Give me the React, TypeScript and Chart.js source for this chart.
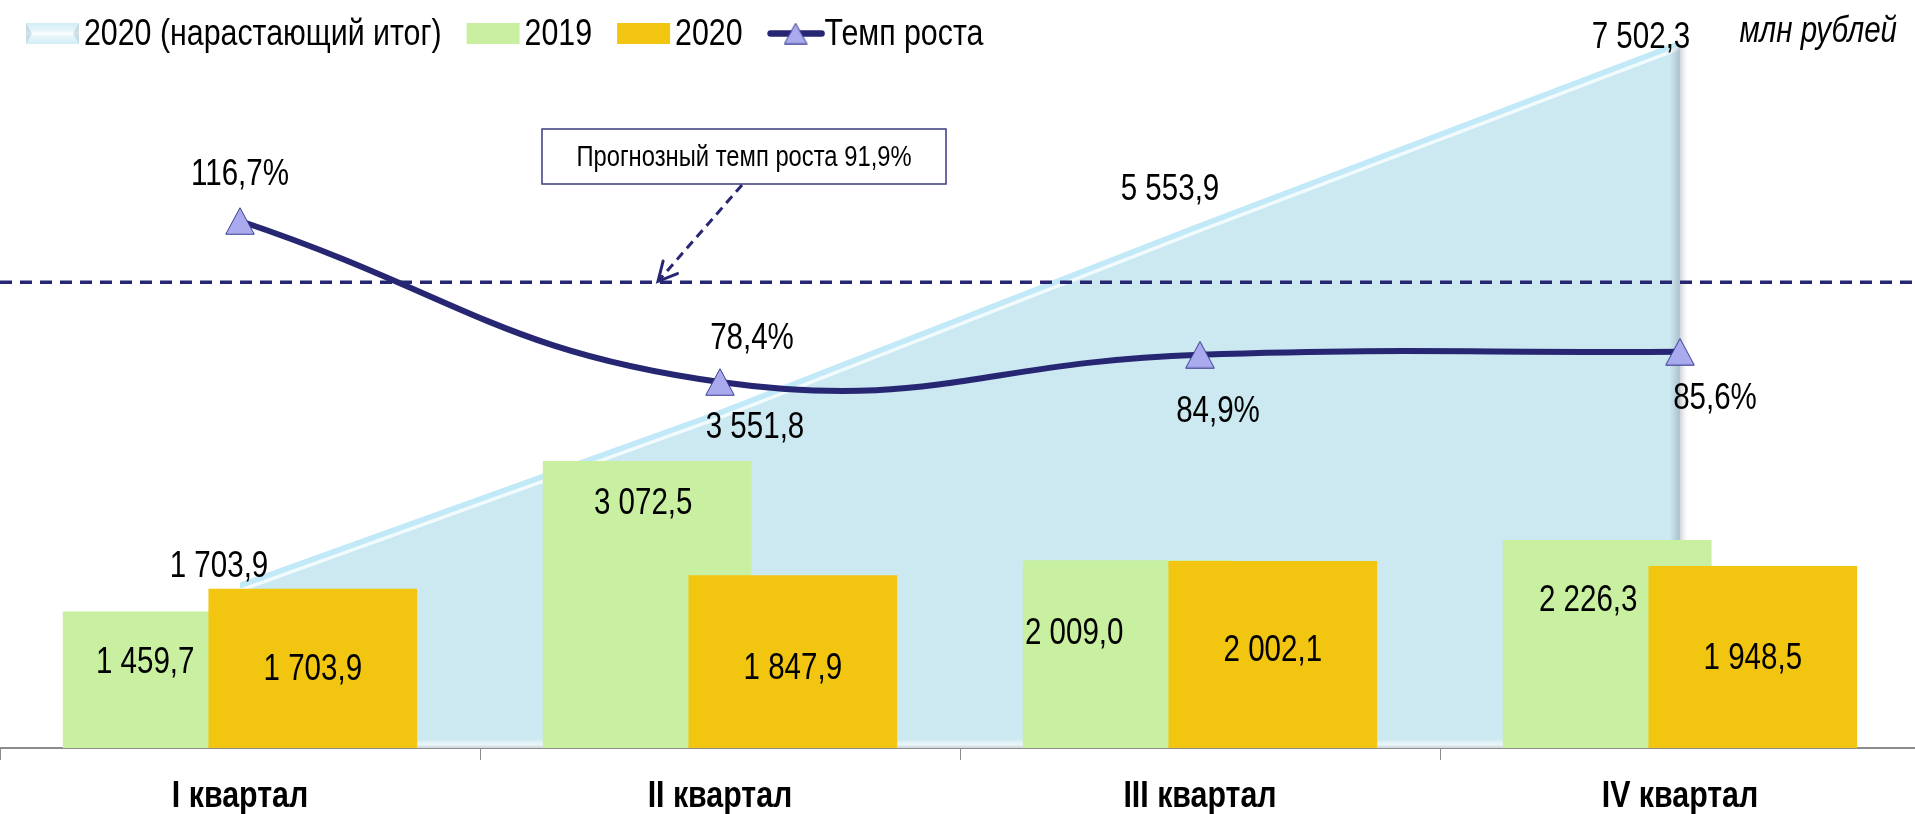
import React, { useEffect, useRef } from "react";
import { Chart, registerables } from "chart.js";

Chart.register(...registerables);

// ---------- data ----------
const categories = ["I квартал", "II квартал", "III квартал", "IV квартал"];
const values2019 = [1459.7, 3072.5, 2009.0, 2226.3];
const values2020 = [1703.9, 1847.9, 2002.1, 1948.5];
const cumulative2020 = [1703.9, 3551.8, 5553.9, 7502.3];
const growthRate = [116.7, 78.4, 84.9, 85.6];
const forecastRate = 91.9;
const forecastLineLevel = 102.1; // where the dashed forecast line sits on the rate axis in the picture
const seriesLabels = ["2020 (нарастающий итог)", "2019", "2020", "Темп роста"];
const unitLabel = "млн рублей";
const moneyAxisRange = [0, 7577];
const rateAxisRange = [-8.66, 159.75];

// ---------- styles / layout ----------
const FONT = '"Liberation Sans", Arial, sans-serif';
const NARROW = 0.82; // horizontal squeeze to imitate Arial Narrow
const NAVY = "#262672";
const GREEN = "#c8f0a0";
const YELLOW = "#f2c511";
const AREA = "#cce8f0";
const TRI_FILL = "#aaaaee";

const LABEL_OFFSETS: Record<string, number[][]> = {
  cumulative: [[-21, -22], [35, 12], [-30, -39], [-39, -9]],
  rate: [[0, -46], [32, -43], [18, 57], [35, 47]],
  green: [[-22, -17], [-4, -100], [-53, -20], [-19, -43]],
  yellow: [[0, 2], [0, 7], [0, -3], [0, 2]],
};

function fmtNum(v: number) {
  const [i, d] = v.toFixed(1).split(".");
  return i.replace(/\B(?=(\d{3})+(?!\d))/g, " ") + "," + d;
}
function fmtPct(v: number) {
  return v.toFixed(1).replace(".", ",") + "%";
}

function narrowText(
  ctx: CanvasRenderingContext2D,
  text: string,
  x: number,
  y: number,
  font: string,
  align: CanvasTextAlign = "center",
  baseline: CanvasTextBaseline = "middle"
) {
  ctx.save();
  ctx.font = font;
  ctx.textAlign = align;
  ctx.textBaseline = baseline;
  ctx.translate(x, y);
  ctx.scale(NARROW, 1);
  ctx.fillText(text, 0, 0);
  ctx.restore();
}
function narrowWidth(ctx: CanvasRenderingContext2D, text: string, font: string) {
  ctx.save();
  ctx.font = font;
  const w = ctx.measureText(text).width * NARROW;
  ctx.restore();
  return w;
}

function makeTriangle(w: number, h: number) {
  const c = document.createElement("canvas");
  c.width = w;
  c.height = h;
  const g = c.getContext("2d")!;
  g.beginPath();
  g.moveTo(w / 2, 0.75);
  g.lineTo(w - 0.75, h - 0.75);
  g.lineTo(0.75, h - 0.75);
  g.closePath();
  g.fillStyle = TRI_FILL;
  g.fill();
  g.strokeStyle = "#3c3c92";
  g.lineWidth = 1;
  g.stroke();
  return c;
}

// yellow bars sit to the right of the green ones but are painted over them
const barOrderPlugin = {
  id: "barOrder",
  beforeDatasetDraw(chart: any, args: any) {
    if (chart.data.datasets[args.index].key === "yellow" && !chart.$yellowNow) return false;
  },
  afterDatasetDraw(chart: any, args: any) {
    if (chart.data.datasets[args.index].key !== "green") return;
    const yi = chart.data.datasets.findIndex((d: any) => d.key === "yellow");
    const meta = chart.getDatasetMeta(yi);
    if (!meta.visible) return;
    chart.$yellowNow = true;
    meta.controller.draw();
    chart.$yellowNow = false;
  },
};

const areaDecorPlugin = {
  id: "areaDecor",
  afterDatasetDraw(chart: any, args: any) {
    const ds = chart.data.datasets[args.index];
    if (ds.key !== "cumulative") return;
    const pts = args.meta.data;
    const ctx = chart.ctx;
    const area = chart.chartArea;
    const first = pts[0];
    const last = pts[pts.length - 1];
    const base = chart.scales.y.getPixelForValue(0);
    ctx.save();
    const bg = ctx.createLinearGradient(0, base - 9, 0, base);
    bg.addColorStop(0, "rgba(240,248,250,0)");
    bg.addColorStop(0.6, "rgba(240,248,250,0.9)");
    bg.addColorStop(1, "rgba(200,212,218,0.9)");
    ctx.fillStyle = bg;
    ctx.fillRect(first.x, base - 9, last.x - first.x, 9);
    ctx.beginPath();
    ctx.rect(first.x, area.top - 20, last.x - first.x, area.bottom - area.top + 20);
    ctx.clip();
    ctx.lineJoin = "round";
    ctx.beginPath();
    pts.forEach((p: any, i: number) => (i ? ctx.lineTo(p.x, p.y - 1) : ctx.moveTo(p.x, p.y - 1)));
    ctx.strokeStyle = "#c2e9f7";
    ctx.lineWidth = 10;
    ctx.stroke();
    ctx.beginPath();
    pts.forEach((p: any, i: number) => (i ? ctx.lineTo(p.x, p.y + 1.5) : ctx.moveTo(p.x, p.y + 1.5)));
    ctx.strokeStyle = "#f3fafc";
    ctx.lineWidth = 3.5;
    ctx.stroke();
    ctx.restore();
    ctx.save();
    const sg = ctx.createLinearGradient(last.x - 10, 0, last.x + 8, 0);
    sg.addColorStop(0, "rgba(150,165,178,0)");
    sg.addColorStop(0.5, "rgba(150,165,178,0.55)");
    sg.addColorStop(0.58, "rgba(160,170,180,0.45)");
    sg.addColorStop(1, "rgba(210,210,210,0)");
    ctx.fillStyle = sg;
    ctx.beginPath();
    ctx.moveTo(last.x - 10, last.y + 4);
    ctx.lineTo(last.x, last.y);
    ctx.lineTo(last.x + 8, last.y);
    ctx.lineTo(last.x + 8, base);
    ctx.lineTo(last.x - 10, base);
    ctx.closePath();
    ctx.fill();
    ctx.restore();
  },
};

const forecastPlugin = {
  id: "forecastNote",
  afterDatasetsDraw(chart: any) {
    const ctx = chart.ctx;
    const area = chart.chartArea;
    const y = chart.scales.y2.getPixelForValue(forecastLineLevel);
    ctx.save();
    ctx.strokeStyle = NAVY;
    ctx.lineWidth = 3.5;
    ctx.setLineDash([12, 8]);
    ctx.beginPath();
    ctx.moveTo(area.left, y);
    ctx.lineTo(area.right, y);
    ctx.stroke();

    const bx = 542, by = 129, bw = 404, bh = 55;
    ctx.setLineDash([]);
    ctx.fillStyle = "#ffffff";
    ctx.fillRect(bx, by, bw, bh);
    ctx.strokeStyle = "#3a3a80";
    ctx.lineWidth = 1.5;
    ctx.strokeRect(bx, by, bw, bh);
    ctx.fillStyle = "#000";
    narrowText(
      ctx,
      `Прогнозный темп роста ${forecastRate.toFixed(1).replace(".", ",")}%`,
      bx + bw / 2,
      by + bh / 2 + 1,
      `29px ${FONT}`
    );

    const sx = 742, sy = by + bh + 1, ex = 658, ey = y - 1;
    ctx.strokeStyle = NAVY;
    ctx.lineWidth = 3;
    ctx.setLineDash([9, 6]);
    ctx.beginPath();
    ctx.moveTo(sx, sy);
    ctx.lineTo(ex, ey);
    ctx.stroke();
    ctx.setLineDash([]);
    const ang = Math.atan2(sy - ey, sx - ex);
    const hl = 21, spread = (27 * Math.PI) / 180;
    ctx.lineCap = "round";
    ctx.beginPath();
    ctx.moveTo(ex + Math.cos(ang - spread) * hl, ey + Math.sin(ang - spread) * hl);
    ctx.lineTo(ex, ey);
    ctx.lineTo(ex + Math.cos(ang + spread) * hl, ey + Math.sin(ang + spread) * hl);
    ctx.stroke();
    ctx.restore();
  },
};

const dataLabelPlugin = {
  id: "dataLabelsCustom",
  afterDatasetsDraw(chart: any) {
    const ctx = chart.ctx;
    ctx.save();
    ctx.fillStyle = "#000";
    chart.data.datasets.forEach((ds: any, di: number) => {
      const meta = chart.getDatasetMeta(di);
      const offs = LABEL_OFFSETS[ds.key];
      if (!offs || !meta.visible) return;
      meta.data.forEach((el: any, i: number) => {
        const v = ds.data[i];
        const [dx, dy] = offs[i];
        const x = el.x;
        const y = ds.type === "bar" ? (el.y + el.base) / 2 : el.y;
        const txt = ds.key === "rate" ? fmtPct(v) : fmtNum(v);
        narrowText(ctx, txt, x + dx, y + dy, `36px ${FONT}`);
      });
    });
    // category labels under the x axis
    const xs = chart.scales.x;
    xs.ticks.forEach((_t: any, i: number) => {
      narrowText(ctx, String(chart.data.labels[i]), xs.getPixelForTick(i), 807, `bold 37px ${FONT}`, "center", "alphabetic");
    });
    ctx.restore();
  },
};

const legendPlugin = {
  id: "customLegend",
  afterDraw(chart: any) {
    const ctx = chart.ctx;
    ctx.save();
    const font = `37px ${FONT}`;
    const boxTop = 23, boxH = 21, boxW = 53, textBase = 45;
    let x = 26;
    const order = ["cumulative", "green", "yellow", "rate"];
    order.forEach((key) => {
      const ds = chart.data.datasets.find((d: any) => d.key === key);
      if (key === "cumulative") {
        const g = ctx.createLinearGradient(0, boxTop, 0, boxTop + boxH);
        g.addColorStop(0, "#d2edf6");
        g.addColorStop(0.35, "#e4f5fa");
        g.addColorStop(0.5, "#fbfeff");
        g.addColorStop(0.65, "#e4f5fa");
        g.addColorStop(1, "#d2edf6");
        ctx.fillStyle = g;
        ctx.fillRect(x, boxTop, boxW, boxH);
        ctx.fillStyle = "rgba(170,190,200,0.45)";
        ctx.beginPath();
        ctx.moveTo(x, boxTop); ctx.lineTo(x + 6, boxTop + boxH / 2); ctx.lineTo(x, boxTop + boxH); ctx.closePath();
        ctx.moveTo(x + boxW, boxTop); ctx.lineTo(x + boxW - 6, boxTop + boxH / 2); ctx.lineTo(x + boxW, boxTop + boxH); ctx.closePath();
        ctx.fill();
      } else if (key === "rate") {
        const cy = boxTop + boxH / 2;
        ctx.strokeStyle = NAVY;
        ctx.lineWidth = 6.5;
        ctx.lineCap = "round";
        ctx.beginPath();
        ctx.moveTo(x + 3, cy);
        ctx.lineTo(x + boxW + 1, cy);
        ctx.stroke();
        const tri = makeTriangle(24, 22);
        ctx.drawImage(tri, x + 28 - 12, cy - 11);
      } else {
        ctx.fillStyle = ds.backgroundColor;
        ctx.fillRect(x, boxTop, boxW, boxH);
      }
      ctx.fillStyle = "#000";
      const tx = x + boxW + (key === "rate" ? 4 : 5);
      narrowText(ctx, ds.label, tx, textBase, font, "left", "alphabetic");
      x = tx + narrowWidth(ctx, ds.label, font) + 25;
    });
    ctx.fillStyle = "#000";
    narrowText(ctx, unitLabel, 1897, 42, `italic 36px ${FONT}`, "right", "alphabetic");
    ctx.restore();
  },
};

export default function App() {
  const ref = useRef<HTMLCanvasElement | null>(null);
  useEffect(() => {
    if (!ref.current) return;
    const tri = makeTriangle(30, 28);
    const chart = new Chart(ref.current, {
      type: "bar",
      data: {
        labels: categories,
        datasets: [
          {
            key: "cumulative",
            type: "line",
            label: seriesLabels[0],
            data: cumulative2020,
            yAxisID: "y",
            fill: "origin",
            backgroundColor: AREA,
            borderWidth: 0,
            pointRadius: 0,
            tension: 0,
            order: 10,
          } as any,
          {
            key: "green",
            type: "bar",
            label: seriesLabels[1],
            data: values2019,
            yAxisID: "y",
            backgroundColor: GREEN,
            borderWidth: 0,
            order: 2,
          } as any,
          {
            key: "yellow",
            type: "bar",
            label: seriesLabels[2],
            data: values2020,
            yAxisID: "y",
            backgroundColor: YELLOW,
            borderWidth: 0,
            order: 3,
          } as any,
          {
            key: "rate",
            type: "line",
            label: seriesLabels[3],
            data: growthRate,
            yAxisID: "y2",
            borderColor: NAVY,
            borderWidth: 6,
            fill: false,
            tension: 0.45,
            pointStyle: tri,
            pointRadius: 15,
            order: 1,
          } as any,
        ],
      },
      options: {
        animation: false,
        responsive: false,
        maintainAspectRatio: false,
        layout: { autoPadding: false, padding: { top: 40, left: 0, right: 0, bottom: 0 } },
        datasets: {
          bar: { categoryPercentage: 0.6067, barPercentage: 1.4334 },
        },
        plugins: {
          legend: { display: false },
          tooltip: { enabled: false },
        },
        scales: {
          x: {
            type: "category",
            offset: true,
            grid: {
              offset: true,
              drawOnChartArea: false,
              drawTicks: true,
              tickLength: 12,
              color: "#8c8c8c",
              lineWidth: 1,
            },
            border: { display: true, color: "#8c8c8c", width: 2 },
            ticks: { display: false, padding: 0 },
            afterFit: (scale: any) => {
              scale.height = 66;
            },
          },
          y: { display: false, min: moneyAxisRange[0], max: moneyAxisRange[1] },
          y2: { display: false, min: rateAxisRange[0], max: rateAxisRange[1] },
        },
      } as any,
      plugins: [barOrderPlugin, areaDecorPlugin, forecastPlugin, dataLabelPlugin, legendPlugin],
    });
    return () => chart.destroy();
  }, []);

  return (
    <div
      style={{
        position: "absolute",
        left: 0,
        top: 0,
        width: 1915,
        height: 814,
        overflow: "hidden",
        background: "#fff",
      }}
    >
      <canvas ref={ref} width={1920} height={814} style={{ width: 1920, height: 814, display: "block" }} />
    </div>
  );
}
